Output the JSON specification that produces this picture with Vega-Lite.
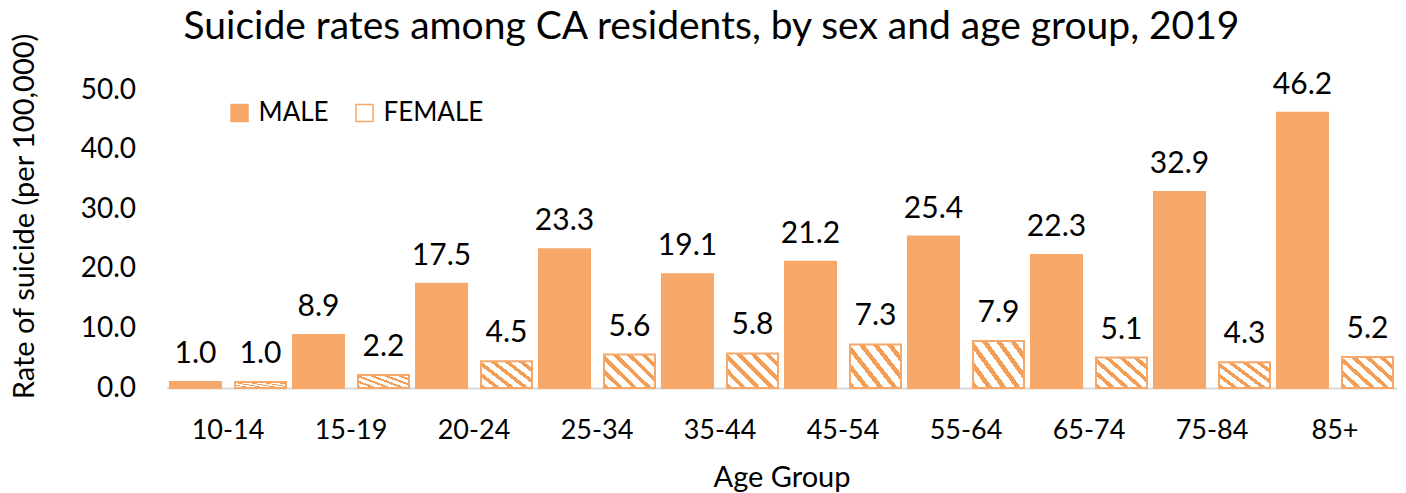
{
  "$schema": "https://vega.github.io/schema/vega-lite/v6.json",
  "autosize": {"type": "none"},
  "width": 1230,
  "height": 298,
  "padding": {"left": 166.5, "top": 90, "right": 9.5, "bottom": 105},
  "background": "white",
  "config": {
    "font": "Lato",
    "view": {"stroke": null},
    "axis": {"labelFont": "Lato", "titleFont": "Lato", "labelColor": "#000000", "titleColor": "#000000", "titleFontWeight": "normal"},
    "legend": {"labelFont": "Lato"}
  },
  "title": {
    "text": "Suicide rates among CA residents, by sex and age group, 2019",
    "font": "Lato",
    "fontSize": 39,
    "fontWeight": "normal",
    "color": "#000000",
    "anchor": "middle",
    "frame": "group",
    "dx": -70,
    "dy": 22,
    "offset": 8
  },
  "data": {
    "values": [
      {"age": "10-14", "sex": "MALE", "rate": 1.0},
      {"age": "10-14", "sex": "FEMALE", "rate": 1.0},
      {"age": "15-19", "sex": "MALE", "rate": 8.9},
      {"age": "15-19", "sex": "FEMALE", "rate": 2.2},
      {"age": "20-24", "sex": "MALE", "rate": 17.5},
      {"age": "20-24", "sex": "FEMALE", "rate": 4.5},
      {"age": "25-34", "sex": "MALE", "rate": 23.3},
      {"age": "25-34", "sex": "FEMALE", "rate": 5.6},
      {"age": "35-44", "sex": "MALE", "rate": 19.1},
      {"age": "35-44", "sex": "FEMALE", "rate": 5.8},
      {"age": "45-54", "sex": "MALE", "rate": 21.2},
      {"age": "45-54", "sex": "FEMALE", "rate": 7.3},
      {"age": "55-64", "sex": "MALE", "rate": 25.4},
      {"age": "55-64", "sex": "FEMALE", "rate": 7.9},
      {"age": "65-74", "sex": "MALE", "rate": 22.3},
      {"age": "65-74", "sex": "FEMALE", "rate": 5.1},
      {"age": "75-84", "sex": "MALE", "rate": 32.9},
      {"age": "75-84", "sex": "FEMALE", "rate": 4.3},
      {"age": "85+", "sex": "MALE", "rate": 46.2},
      {"age": "85+", "sex": "FEMALE", "rate": 5.2}
    ]
  },
  "encoding": {
    "x": {
      "field": "age",
      "type": "nominal",
      "sort": null,
      "scale": {"paddingInner": 0.057, "paddingOuter": 0.0285},
      "axis": {
        "title": "Age Group",
        "titleFontSize": 29,
        "titlePadding": 20,
        "labelFontSize": 27,
        "labelAngle": 0,
        "labelPadding": 29,
        "ticks": false,
        "domainColor": "#D9D9D9",
        "domainWidth": 2,
        "grid": false
      }
    },
    "xOffset": {
      "field": "sex",
      "type": "nominal",
      "sort": ["MALE", "FEMALE"],
      "scale": {"paddingInner": 0.215, "paddingOuter": 0}
    },
    "y": {
      "field": "rate",
      "type": "quantitative",
      "scale": {"domain": [0, 50], "nice": false},
      "axis": {
        "title": "Rate of suicide (per 100,000)",
        "titleFontSize": 29,
        "titleY": 126,
        "titleX": -127,
        "labelFontSize": 28,
        "labelPadding": 31,
        "values": [0, 10, 20, 30, 40, 50],
        "format": ".1f",
        "ticks": false,
        "domain": false,
        "grid": false
      }
    }
  },
  "layer": [
    {
      "mark": {"type": "bar", "stroke": "#F5A86A", "strokeWidth": 2},
      "encoding": {
        "fill": {
          "condition": {
            "test": "datum.sex === 'FEMALE'",
            "value": {
              "gradient": "linear",
              "x1": 0, "y1": 1, "x2": 1.15, "y2": 0.23,
              "stops": [
                {"offset": 0, "color": "#F39D55"},
                {"offset": 0.0667, "color": "#F39D55"},
                {"offset": 0.0667, "color": "#FFFFFF"},
                {"offset": 0.1667, "color": "#FFFFFF"},
                {"offset": 0.1667, "color": "#F39D55"},
                {"offset": 0.2333, "color": "#F39D55"},
                {"offset": 0.2333, "color": "#FFFFFF"},
                {"offset": 0.3333, "color": "#FFFFFF"},
                {"offset": 0.3333, "color": "#F39D55"},
                {"offset": 0.4, "color": "#F39D55"},
                {"offset": 0.4, "color": "#FFFFFF"},
                {"offset": 0.5, "color": "#FFFFFF"},
                {"offset": 0.5, "color": "#F39D55"},
                {"offset": 0.5667, "color": "#F39D55"},
                {"offset": 0.5667, "color": "#FFFFFF"},
                {"offset": 0.6667, "color": "#FFFFFF"},
                {"offset": 0.6667, "color": "#F39D55"},
                {"offset": 0.7333, "color": "#F39D55"},
                {"offset": 0.7333, "color": "#FFFFFF"},
                {"offset": 0.8333, "color": "#FFFFFF"},
                {"offset": 0.8333, "color": "#F39D55"},
                {"offset": 0.9, "color": "#F39D55"},
                {"offset": 0.9, "color": "#FFFFFF"},
                {"offset": 1, "color": "#FFFFFF"}
              ]
            }
          },
          "field": "sex",
          "type": "nominal",
          "sort": ["MALE", "FEMALE"],
          "scale": {"domain": ["MALE", "FEMALE"], "range": ["#F5A86A", "#FFFFFF"]},
          "legend": {
            "title": null,
            "orient": "none",
            "direction": "horizontal",
            "legendX": 60,
            "legendY": 10,
            "symbolType": "square",
            "symbolSize": 289,
            "labelFontSize": 26,
            "labelColor": "#000000",
            "labelOffset": 6,
            "columnPadding": 22,
            "encode": {
              "symbols": {
                "stroke": {"value": "#F39D55"},
                "strokeWidth": {"value": 2}
              }
            }
          }
        }
      }
    },
    {
      "mark": {"type": "text", "font": "Lato", "fontSize": 30, "baseline": "bottom", "dy": -13, "color": "#000000"},
      "encoding": {
        "text": {"field": "rate", "type": "quantitative", "format": ".1f"}
      }
    }
  ]
}
